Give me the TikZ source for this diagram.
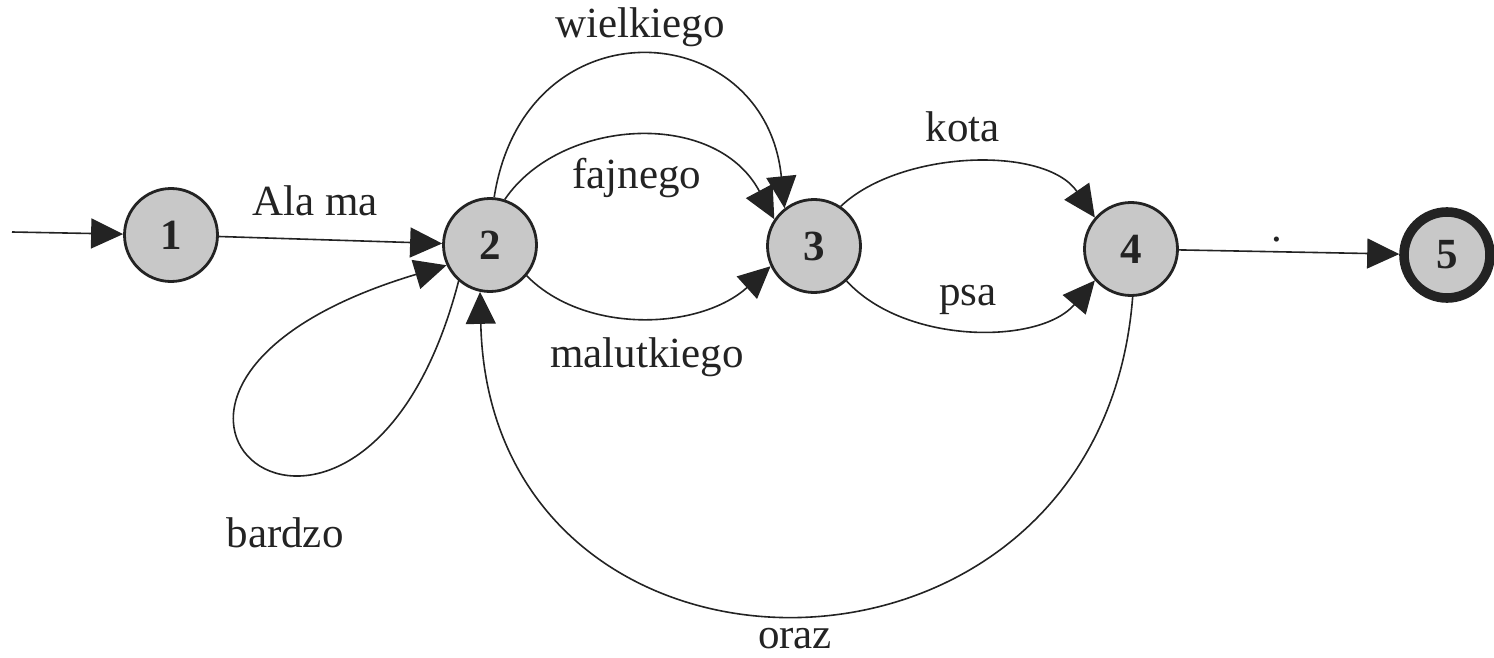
\documentclass[tikz,border=0pt]{standalone}
\usepackage{fontspec}
\setmainfont{Liberation Serif}
\usetikzlibrary{arrows.meta}
\definecolor{nodefill}{RGB}{200,200,200}
\definecolor{ink}{RGB}{35,35,35}
\begin{document}
\begin{tikzpicture}[x=0.5pt,y=-0.5pt,
  state/.style={circle,draw=ink,fill=nodefill,line width=1.4pt,minimum size=46.5pt,inner sep=0pt,
    font=\fontsize{21.5}{25}\selectfont\bfseries,text=ink},
  final/.style={state,line width=4.8pt,minimum size=43pt},
  edge/.style={draw=ink,line width=0.8pt,-{Triangle[length=16pt,width=15pt]}},
  lbl/.style={font=\fontsize{21.5}{25}\selectfont,text=ink,inner sep=0pt,anchor=base}]
\useasboundingbox (0,0) rectangle (1494,658);

\node[state] (n1) at (171,235) {1};
\node[state] (n2) at (490,245) {2};
\node[state] (n3) at (814,246) {3};
\node[state] (n4) at (1131,249) {4};
\node[final] (n5) at (1447,255) {5};
\coordinate (start) at (12,232);

\draw[edge] (start) -- (n1);
\draw[edge] (n1) -- (n2);
\draw[edge] (n2.85) .. controls (525,0) and (765,15) .. (n3.128);
\draw[edge] (n2.72) .. controls (560,118) and (715,108) .. (n3.146);
\draw[edge] (n2.-40) .. controls (585,335) and (700,330) .. (n3.205);
\draw[edge] (n3.56) .. controls (900,150) and (1045,145) .. (n4.139);
\draw[edge] (n3.-47) .. controls (905,345) and (1040,345) .. (n4.221);
\draw[edge] (n4) -- (n5);
\draw[edge] (n4.-88) .. controls (1100,720) and (490,720) .. (n2.258);
\draw[edge] (n2.229) .. controls (360,660) and (30,390) .. (n2.205);

\node[lbl] (lalama) at (315,215) {Ala ma};
\node[lbl] (lwielkiego) at (640,38) {wielkiego};
\node[lbl] (lfajnego) at (637,188) {fajnego};
\node[lbl] (lmalutkiego) at (647,367) {malutkiego};
\node[lbl] (lkota) at (963,141) {kota};
\node[lbl] (lpsa) at (968,305) {psa};
\node[lbl] (ldot) at (1277,241) {.};
\node[lbl] (loraz) at (795,648) {oraz};
\node[lbl] (lbardzo) at (285,547) {bardzo};
\end{tikzpicture}
\end{document}
